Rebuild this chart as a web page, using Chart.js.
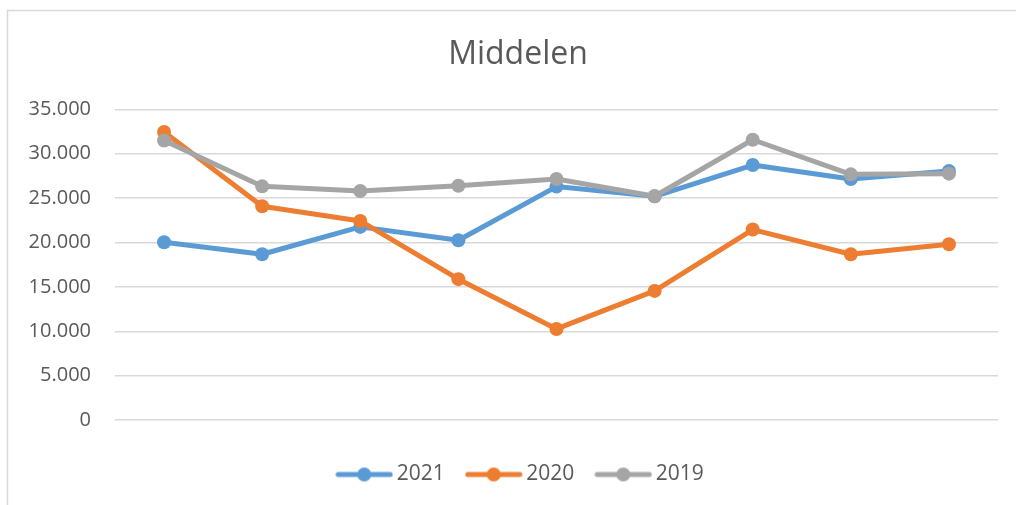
<!DOCTYPE html>
<html>
<head>
<meta charset="utf-8">
<script src="https://cdn.jsdelivr.net/npm/chart.js@4"></script>
<style>
  html, body { margin: 0; padding: 0; background: #fff; }
  #wrap { width: 1016px; height: 505px; }
</style>
</head>
<body>
<div id="wrap"><canvas id="c"></canvas></div>
<script>
// ---- data ----
const categories = ['', '', '', '', '', '', '', '', ''];
const seriesNames = ['2021', '2020', '2019'];
const values2021 = [20030, 18680, 21760, 20260, 26300, 25200, 28730, 27160, 28060];
const values2020 = [32450, 24080, 22430, 15870, 10260, 14550, 21460, 18680, 19810];
const values2019 = [31500, 26330, 25800, 26400, 27150, 25210, 31580, 27680, 27760];
const yTicks = [0, 5000, 10000, 15000, 20000, 25000, 30000, 35000];
const chartTitle = 'Middelen';

// ---- styles ----
const colors = ['#5B9BD5', '#ED7D31', '#A5A5A5'];
const textColor = '#595959';
const gridColor = '#D9D9D9';
const FONT = "'Open Sans', sans-serif";

function fmt(v) {
  return String(v).replace(/\B(?=(\d{3})+(?!\d))/g, '.');
}

function legendIcon(color) {
  const cv = document.createElement('canvas');
  cv.width = 58; cv.height = 16;
  const g = cv.getContext('2d');
  g.strokeStyle = color;
  g.lineWidth = 5;
  g.lineCap = 'round';
  g.beginPath(); g.moveTo(3, 8); g.lineTo(55, 8); g.stroke();
  g.fillStyle = color;
  g.beginPath(); g.arc(29, 8, 7, 0, Math.PI * 2); g.fill();
  return cv;
}
const icons = colors.map(legendIcon);

const frame = {
  id: 'frame',
  afterLayout(chart) {
    if (chart.legend) { chart.legend.left += 5; chart.legend.right += 5; }
  },
  beforeDraw(chart) {
    const ctx = chart.ctx;
    ctx.save();
    ctx.strokeStyle = gridColor;
    ctx.lineWidth = 1.5;
    ctx.beginPath();
    ctx.moveTo(7.5, chart.height);
    ctx.lineTo(7.5, 10.5);
    ctx.lineTo(chart.width, 10.5);
    ctx.stroke();
    ctx.restore();
  }
};

const allValues = [values2021, values2020, values2019];
const datasets = seriesNames.map((name, i) => ({
  label: name,
  data: allValues[i],
  borderColor: colors[i],
  backgroundColor: colors[i],
  pointBackgroundColor: colors[i],
  pointBorderColor: colors[i],
  borderWidth: 5,
  pointRadius: 7,
  pointBorderWidth: 0,
  pointHoverRadius: 7,
  tension: 0,
  fill: false,
  borderJoinStyle: 'round',
  borderCapStyle: 'round',
  order: 3 - i
}));

new Chart(document.getElementById('c'), {
  type: 'line',
  data: { labels: categories, datasets },
  plugins: [frame],
  options: {
    responsive: true,
    maintainAspectRatio: false,
    animation: false,
    layout: { padding: { left: 20, right: 0, top: 0, bottom: 10 } },
    plugins: {
      tooltip: { enabled: false },
      title: {
        display: true,
        text: chartTitle,
        color: textColor,
        font: { family: FONT, size: 32, weight: 'normal' },
        padding: { top: 36, bottom: 35 }
      },
      legend: {
        display: true,
        position: 'bottom',
        labels: {
          color: textColor,
          font: { family: FONT, size: 21 },
          usePointStyle: true,
          pointStyleWidth: 44,
          padding: 27,
          generateLabels(chart) {
            return chart.data.datasets.map((ds, i) => ({
              text: ds.label,
              fillStyle: colors[i],
              strokeStyle: colors[i],
              fontColor: textColor,
              lineWidth: 0,
              pointStyle: icons[i],
              hidden: false,
              datasetIndex: i
            }));
          }
        }
      }
    },
    scales: {
      x: {
        offset: true,
        grid: { display: false },
        border: { display: false },
        ticks: { display: false },
        afterFit(s) { s.height = 17; }
      },
      y: {
        min: 0,
        max: 35000,
        afterBuildTicks(s) { s.ticks = yTicks.map(v => ({ value: v })); },
        afterFit(s) { s.width = 95; },
        grid: { color: gridColor, lineWidth: 1.5, drawTicks: false },
        border: { display: false },
        ticks: {
          color: textColor,
          font: { family: FONT, size: 20 },
          padding: 24,
          callback: v => fmt(v)
        }
      },
      yRight: {
        position: 'right',
        display: true,
        grid: { display: false },
        border: { display: false },
        ticks: { display: false },
        afterFit(s) { s.width = 18; }
      }
    }
  }
});
</script>
</body>
</html>
